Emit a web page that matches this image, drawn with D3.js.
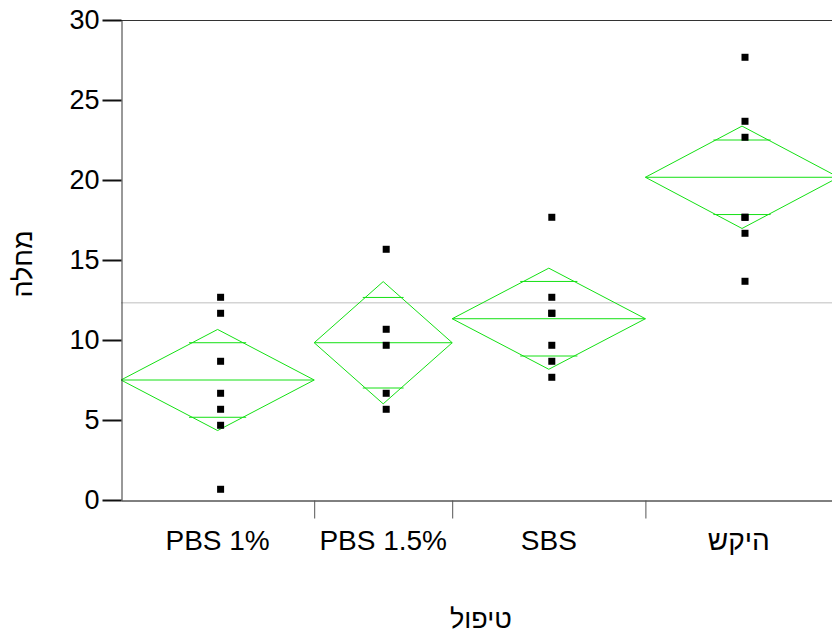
<!DOCTYPE html>
<html>
<head>
<meta charset="utf-8">
<script src="https://cdn.jsdelivr.net/npm/d3@7"></script>
<style>
  body { margin: 0; background: #fff; }
  svg { display: block; font-family: "Liberation Sans", Arial, sans-serif; }
</style>
</head>
<body>
<svg id="chart" width="832" height="639"></svg>
<script>
// groups (treatment) and the observed values for each
const categories = ['PBS 1%', 'PBS 1.5%', 'SBS', 'היקש']
const pbs1 = [12.67, 11.67, 8.67, 6.67, 5.67, 4.67, 0.67]
const pbs15 = [15.67, 10.67, 9.67, 6.67, 5.67]
const sbs = [17.67, 12.67, 11.67, 11.67, 9.67, 8.67, 7.67]
const control = [27.67, 23.67, 22.67, 17.67, 17.67, 16.67, 13.67]
const groupValues = [pbs1, pbs15, sbs, control]

// means diamonds
const means = [7.5, 9.83, 11.33, 20.17]
const ciLower = [4.34, 6.01, 8.17, 16.97]
const ciUpper = [10.66, 13.65, 14.49, 23.37]
const overlapLower = [5.17, 7.0, 9.0, 17.84]
const overlapUpper = [9.83, 12.66, 13.66, 22.5]
const grandMean = 12.33

const yTicks = [0, 5, 10, 15, 20, 25, 30]
const yTitle = 'מחלה'
const xTitle = 'טיפול'

const green = '#14e014'
const svg = d3.select('#chart')

const plotLeft = 121, plotTop = 20, plotBottom = 500, unit = 27.6

// x axis width is proportional to group size
const counts = groupValues.map((v) => v.length)
const cum = [0]
counts.forEach((c, i) => cum.push(cum[i] + c))
const total = cum[cum.length - 1]

const x = d3.scaleLinear().domain([0, total]).range([plotLeft, plotLeft + total * unit])
const y = d3.scaleLinear().domain([0, 30]).range([plotBottom, plotTop])

const plot = svg.append('g')

// top frame line
plot.append('line')
  .attr('x1', plotLeft).attr('x2', 832)
  .attr('y1', y(30) + 0.5).attr('y2', y(30) + 0.5)
  .attr('stroke', '#333').attr('stroke-width', 1)

// grand mean line
plot.append('line')
  .attr('x1', plotLeft).attr('x2', 832)
  .attr('y1', y(grandMean)).attr('y2', y(grandMean))
  .attr('stroke', '#d4d4d4').attr('stroke-width', 1.5)

const groups = plot.selectAll('.grp')
  .data(categories.map((c, i) => ({
    name: c, i: i, x0: x(cum[i]), x1: x(cum[i + 1]), values: groupValues[i]
  })))
  .enter()
  .append('g')
  .attr('class', 'grp')

// diamonds
groups.append('path')
  .attr('fill', 'none')
  .attr('stroke', green)
  .attr('stroke-width', 1)
  .attr('d', (g) => {
    const xc = (g.x0 + g.x1) / 2
    return 'M' + g.x0 + ',' + y(means[g.i]) +
      'L' + xc + ',' + y(ciUpper[g.i]) +
      'L' + g.x1 + ',' + y(means[g.i]) +
      'L' + xc + ',' + y(ciLower[g.i]) + 'Z'
  })

groups.append('line')
  .attr('stroke', green)
  .attr('x1', (g) => g.x0).attr('x2', (g) => g.x1)
  .attr('y1', (g) => y(means[g.i])).attr('y2', (g) => y(means[g.i]))

const overlapLine = (arr) => {
  groups.append('line')
    .attr('stroke', green)
    .attr('x1', (g) => (g.x0 + g.x1) / 2 - (g.x1 - g.x0) * 0.148)
    .attr('x2', (g) => (g.x0 + g.x1) / 2 + (g.x1 - g.x0) * 0.148)
    .attr('y1', (g) => y(arr[g.i])).attr('y2', (g) => y(arr[g.i]))
}
overlapLine(overlapLower)
overlapLine(overlapUpper)

// points
groups.selectAll('rect')
  .data((g) => g.values.map((v) => ({v: v, xc: (g.x0 + g.x1) / 2})))
  .enter()
  .append('rect')
  .attr('x', (d) => d.xc + 3 - 3.5)
  .attr('y', (d) => y(d.v) - 3.5)
  .attr('width', 7)
  .attr('height', 7)
  .attr('fill', '#000')

// y axis
const yAxis = svg.append('g')
  .attr('transform', `translate(${plotLeft + 0.5}, 0)`)
  .call(d3.axisLeft(y).tickValues(yTicks).tickSize(19).tickSizeOuter(0).tickPadding(3))
yAxis.select('.domain').attr('stroke', '#333')
yAxis.selectAll('.tick line').attr('stroke', '#111').attr('stroke-width', 2)
yAxis.selectAll('.tick text')
  .attr('font-size', 27)
  .attr('font-family', '"Liberation Sans", Arial, sans-serif')
  .attr('fill', '#000')

// x axis: group boundaries as ticks
const xAxis = svg.append('g')
  .attr('transform', `translate(0, ${plotBottom + 0.5})`)
  .call(d3.axisBottom(x).tickValues(cum.slice(1, -1)).tickFormat('').tickSize(18).tickSizeOuter(0))
xAxis.select('.domain').attr('stroke', '#000')
xAxis.selectAll('.tick line').attr('stroke', '#555')

svg.selectAll('.xlabel')
  .data(categories)
  .enter()
  .append('text')
  .attr('class', 'xlabel')
  .attr('x', (c, i) => (x(cum[i]) + Math.min(x(cum[i + 1]), 832)) / 2)
  .attr('y', 550)
  .attr('text-anchor', 'middle')
  .attr('font-size', 28)
  .attr('fill', '#000')
  .text((c) => c)

svg.append('text')
  .attr('x', 481)
  .attr('y', 628)
  .attr('text-anchor', 'middle')
  .attr('font-size', 27)
  .text(xTitle)

svg.append('text')
  .attr('transform', 'translate(32, 264) rotate(-90)')
  .attr('text-anchor', 'middle')
  .attr('font-size', 27)
  .text(yTitle)
</script>
</body>
</html>
